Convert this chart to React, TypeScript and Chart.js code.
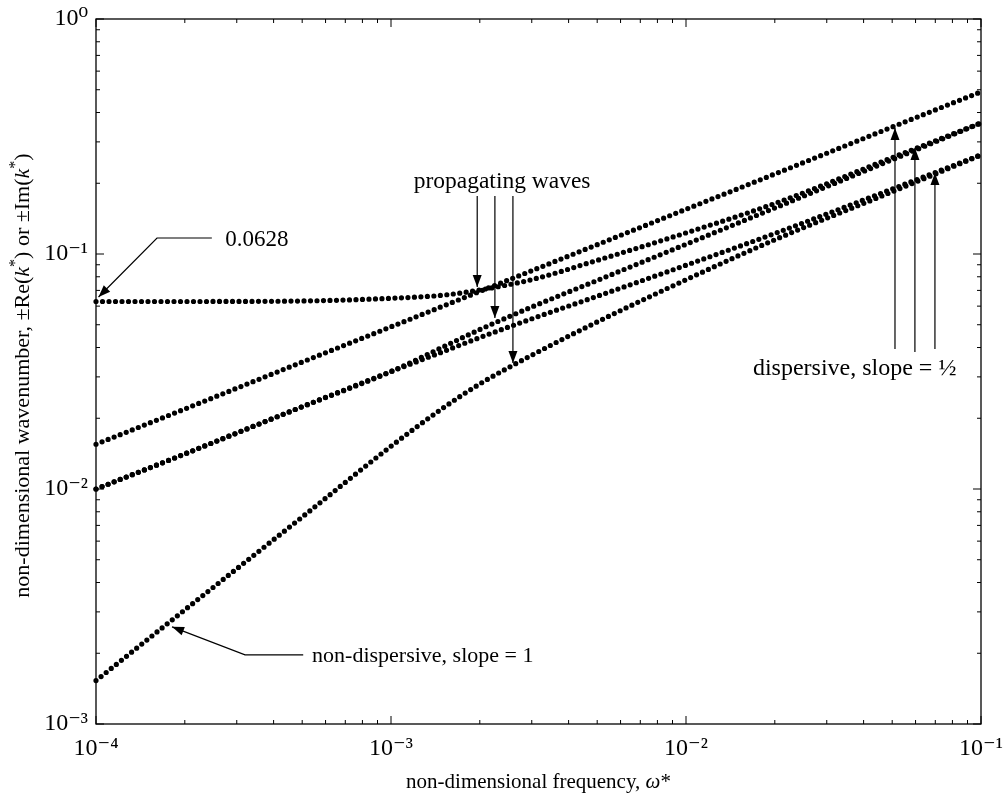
import React, { useEffect, useRef } from 'react';
import { Chart, registerables } from 'chart.js';

Chart.register(...registerables);

// ---------- data ----------
const FREQUENCY = [1e-4, 2e-4, 5e-4, 1e-3, 1.5e-3, 2e-3, 3e-3, 5e-3, 1e-2, 2e-2, 5e-2, 1e-1];
const CUTOFF_WAVE = [0.0628, 0.0628, 0.0631, 0.0648, 0.0668, 0.0703, 0.0778, 0.094, 0.123, 0.164, 0.257, 0.361];
const FLEXURAL_TOP = [0.0155, 0.0219, 0.0347, 0.049, 0.060, 0.0693, 0.0849, 0.1096, 0.155, 0.219, 0.347, 0.49];
const COUPLED_UPPER = [0.01, 0.0141, 0.0224, 0.0316, 0.0402, 0.0477, 0.0595, 0.0772, 0.110, 0.157, 0.252, 0.361];
const COUPLED_LOWER = [0.01, 0.0141, 0.0224, 0.0316, 0.0384, 0.0441, 0.053, 0.0661, 0.0896, 0.1223, 0.189, 0.264];
const NON_DISPERSIVE = [0.00153, 0.00306, 0.0076, 0.0152, 0.0221, 0.028, 0.0371, 0.0514, 0.0777, 0.115, 0.184, 0.264];

const SERIES = [CUTOFF_WAVE, FLEXURAL_TOP, COUPLED_UPPER, COUPLED_LOWER, NON_DISPERSIVE];

const X_MIN = 1e-4;
const X_MAX = 1e-1;
const Y_MIN = 1e-3;
const Y_MAX = 1;
const X_DECADES = [-4, -3, -2, -1];
const Y_DECADES = [-3, -2, -1, 0];

// annotations (data coordinates)
const CUTOFF_TEXT = '0.0628';
const CUTOFF_TEXT_AT = { x: 2.74e-4, y: 0.117 };
const CUTOFF_LEADER = [
  { x: 2.47e-4, y: 0.117 },
  { x: 1.61e-4, y: 0.117 },
  { x: 1.02e-4, y: 0.0656 },
];
const NONDISP_TEXT = 'non-dispersive, slope = 1';
const NONDISP_TEXT_AT = { x: 5.4e-4, y: 1.97e-3 };
const NONDISP_LEADER = [
  { x: 5.04e-4, y: 1.97e-3 },
  { x: 3.2e-4, y: 1.97e-3 },
  { x: 1.81e-4, y: 2.59e-3 },
];
const PROP_TEXT = 'propagating waves';
const PROP_TEXT_AT = { x: 2.38e-3, y: 0.205 };
const PROP_ARROW_START = 0.1766;
const PROP_ARROW_X = [1.96e-3, 2.25e-3, 2.59e-3];
const PROP_ARROW_TIP = [0.0724, 0.0534, 0.0344];
const DISP_TEXT = 'dispersive, slope = ½';
const DISP_TEXT_AT = { x: 0.0373, y: 0.033 };
const DISP_ARROW_X = [0.0511, 0.0597, 0.0698];
const DISP_ARROW_BASE = [0.0394, 0.0383, 0.0394];
const DISP_ARROW_TIP = [0.344, 0.2825, 0.221];

type Seg = { t: string; it?: boolean; sup?: boolean };
const X_TITLE: Seg[] = [
  { t: 'non-dimensional frequency, ' },
  { t: 'ω', it: true },
  { t: '*' },
];
const Y_TITLE: Seg[] = [
  { t: 'non-dimensional wavenumber, ±Re(' },
  { t: 'k', it: true },
  { t: '*', sup: true },
  { t: ') or ±Im(' },
  { t: 'k', it: true },
  { t: '*', sup: true },
  { t: ')' },
];

const SERIF = '"Liberation Serif", "Times New Roman", "DejaVu Serif", serif';
const SUP: Record<string, string> = {
  '-': '⁻', '0': '⁰', '1': '¹', '2': '²', '3': '³', '4': '⁴', '5': '⁵',
};

function powLabel(v: number): string {
  const e = Math.log10(v);
  const r = Math.round(e);
  if (Math.abs(e - r) > 1e-6) return '';
  return '10' + String(r).split('').map((c) => SUP[c] || c).join('');
}

function drawRich(
  ctx: CanvasRenderingContext2D,
  segs: Seg[],
  cx: number,
  cy: number,
  size: number,
  rot: number,
  align: 'center' | 'left' = 'center'
) {
  ctx.save();
  ctx.translate(cx, cy);
  if (rot) ctx.rotate(rot);
  const fontFor = (s: Seg) =>
    `${s.it ? 'italic ' : ''}${s.sup ? Math.round(size * 0.72) : size}px ${SERIF}`;
  let total = 0;
  const widths = segs.map((s) => {
    ctx.font = fontFor(s);
    const w = ctx.measureText(s.t).width;
    total += w;
    return w;
  });
  let x = align === 'center' ? -total / 2 : 0;
  ctx.textAlign = 'left';
  ctx.textBaseline = 'alphabetic';
  ctx.fillStyle = '#000';
  const base = size * 0.33;
  segs.forEach((s, i) => {
    ctx.font = fontFor(s);
    ctx.fillText(s.t, x, base - (s.sup ? size * 0.42 : 0));
    x += widths[i];
  });
  ctx.restore();
}

function arrowHead(ctx: CanvasRenderingContext2D, fx: number, fy: number, tx: number, ty: number) {
  const len = 12;
  const half = 4.5;
  const a = Math.atan2(ty - fy, tx - fx);
  const bx = tx - len * Math.cos(a);
  const by = ty - len * Math.sin(a);
  ctx.beginPath();
  ctx.moveTo(tx, ty);
  ctx.lineTo(bx + half * Math.sin(a), by - half * Math.cos(a));
  ctx.lineTo(bx - half * Math.sin(a), by + half * Math.cos(a));
  ctx.closePath();
  ctx.fill();
}

const decorPlugin = {
  id: 'decor',
  afterDraw(chart: any) {
    const ctx: CanvasRenderingContext2D = chart.ctx;
    const xs = chart.scales.x;
    const ys = chart.scales.y;
    const { left, right, top, bottom } = chart.chartArea;
    const X = (v: number) => xs.getPixelForValue(v);
    const Y = (v: number) => ys.getPixelForValue(v);

    ctx.save();
    ctx.strokeStyle = '#000';
    ctx.fillStyle = '#000';
    ctx.lineWidth = 1.3;
    // frame
    ctx.strokeRect(left, top, right - left, bottom - top);

    // inward ticks
    ctx.lineWidth = 1;
    ctx.beginPath();
    X_DECADES.forEach((d) => {
      for (let m = 1; m <= 9; m++) {
        const v = m * Math.pow(10, d);
        if (v > X_MAX * 1.0001) break;
        const p = X(v);
        const len = m === 1 ? 8 : 4;
        ctx.moveTo(p, bottom);
        ctx.lineTo(p, bottom - len);
        ctx.moveTo(p, top);
        ctx.lineTo(p, top + len);
      }
    });
    Y_DECADES.forEach((d) => {
      for (let m = 1; m <= 9; m++) {
        const v = m * Math.pow(10, d);
        if (v > Y_MAX * 1.0001) break;
        const p = Y(v);
        const len = m === 1 ? 8 : 4;
        ctx.moveTo(left, p);
        ctx.lineTo(left + len, p);
        ctx.moveTo(right, p);
        ctx.lineTo(right - len, p);
      }
    });
    ctx.stroke();

    // leaders with arrow heads
    ctx.lineWidth = 1.2;
    const leader = (pts: { x: number; y: number }[]) => {
      ctx.beginPath();
      pts.forEach((p, i) => (i ? ctx.lineTo(X(p.x), Y(p.y)) : ctx.moveTo(X(p.x), Y(p.y))));
      ctx.stroke();
      const a = pts[pts.length - 2];
      const b = pts[pts.length - 1];
      arrowHead(ctx, X(a.x), Y(a.y), X(b.x), Y(b.y));
    };
    leader(CUTOFF_LEADER);
    leader(NONDISP_LEADER);
    PROP_ARROW_X.forEach((x, i) =>
      leader([
        { x, y: PROP_ARROW_START },
        { x, y: PROP_ARROW_TIP[i] },
      ])
    );
    DISP_ARROW_X.forEach((x, i) =>
      leader([
        { x, y: DISP_ARROW_BASE[i] },
        { x, y: DISP_ARROW_TIP[i] },
      ])
    );

    // annotation texts
    drawRich(ctx, [{ t: CUTOFF_TEXT }], X(CUTOFF_TEXT_AT.x), Y(CUTOFF_TEXT_AT.y), 23, 0, 'left');
    drawRich(ctx, [{ t: NONDISP_TEXT }], X(NONDISP_TEXT_AT.x), Y(NONDISP_TEXT_AT.y), 22, 0, 'left');
    drawRich(ctx, [{ t: PROP_TEXT }], X(PROP_TEXT_AT.x), Y(PROP_TEXT_AT.y), 23.5, 0, 'center');
    drawRich(ctx, [{ t: DISP_TEXT }], X(DISP_TEXT_AT.x), Y(DISP_TEXT_AT.y), 24, 0, 'center');

    // axis titles
    drawRich(ctx, X_TITLE, (left + right) / 2, chart.height - 14, 21, 0, 'center');
    drawRich(ctx, Y_TITLE, 22, (top + bottom) / 2 + 4, 22, -Math.PI / 2, 'center');
    ctx.restore();
  },
};

const zeroPadding = (s: any) => {
  s.paddingLeft = 0;
  s.paddingRight = 0;
  s.paddingTop = 0;
  s.paddingBottom = 0;
};

export default function App() {
  const ref = useRef<HTMLCanvasElement>(null);
  useEffect(() => {
    const canvas = ref.current!;
    const datasets = SERIES.map((vals) => ({
      data: FREQUENCY.map((x, i) => ({ x, y: vals[i] })),
      borderColor: '#000',
      backgroundColor: '#000',
      borderWidth: 5.2,
      borderDash: [0, 6.5],
      borderCapStyle: 'round' as const,
      pointRadius: 0,
      fill: false,
      cubicInterpolationMode: 'monotone' as const,
      clip: false as const,
    }));
    const tickFont = { family: SERIF, size: 24 };
    const chart = new Chart(canvas, {
      type: 'line',
      data: { datasets },
      options: {
        animation: false,
        responsive: false,
        devicePixelRatio: 1,
        events: [],
        layout: { padding: { left: 0, top: 19, right: 23, bottom: 0 } },
        plugins: { legend: { display: false }, tooltip: { enabled: false } },
        scales: {
          x: {
            type: 'logarithmic',
            min: X_MIN,
            max: X_MAX,
            grid: { display: false, drawTicks: false },
            border: { display: false },
            ticks: {
              autoSkip: false,
              maxRotation: 0,
              padding: 10,
              color: '#000',
              font: tickFont,
              callback: (v: any) => powLabel(Number(v)),
            },
            afterFit: (s: any) => {
              s.height = 71;
              zeroPadding(s);
            },
          },
          y: {
            type: 'logarithmic',
            min: Y_MIN,
            max: Y_MAX,
            grid: { display: false, drawTicks: false },
            border: { display: false },
            ticks: {
              autoSkip: false,
              padding: 8,
              color: '#000',
              font: tickFont,
              callback: (v: any) => powLabel(Number(v)),
            },
            afterFit: (s: any) => {
              s.width = 96;
              zeroPadding(s);
            },
          },
        },
      },
      plugins: [decorPlugin],
    } as any);
    return () => chart.destroy();
  }, []);
  return (
    <div style={{ position: 'absolute', left: 0, top: 0, width: 1004, height: 795, background: '#fff' }}>
      <canvas ref={ref} width={1004} height={795} style={{ display: 'block' }} />
    </div>
  );
}
